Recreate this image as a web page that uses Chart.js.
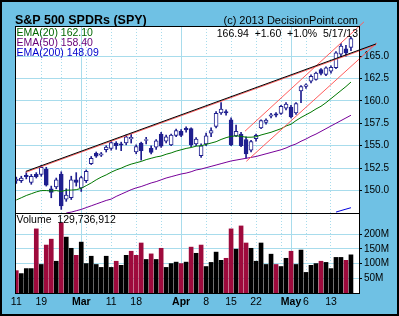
<!DOCTYPE html>
<html><head><meta charset="utf-8">
<script src="https://cdn.jsdelivr.net/npm/chart.js@4"></script>
<style>
html,body{margin:0;padding:0;}
body{width:399px;height:316px;background:#6FC1E4;position:relative;overflow:hidden;font-family:"Liberation Sans",Arial,sans-serif;}
#c{position:absolute;left:0;top:0;}
.t{position:absolute;white-space:pre;line-height:1;}
#frame{position:absolute;left:0;top:0;width:399px;height:316px;box-sizing:border-box;border:2px solid #000;pointer-events:none;}
</style></head><body>
<canvas id="c" width="399" height="316"></canvas>
<div class="t" style="left:15px;top:13.5px;font-size:12.5px;font-weight:bold;">S&amp;P 500 SPDRs (SPY)</div>
<div class="t" style="right:41px;top:15px;font-size:11px;">(c) 2013 DecisionPoint.com</div>
<div class="t" style="right:41px;top:28px;font-size:10.5px;">166.94  +1.60  +1.0%  5/17/13</div>
<div class="t" style="left:16.5px;top:27.4px;font-size:10.5px;color:#006600;">EMA(20) 162.10</div>
<div class="t" style="left:16.5px;top:37.4px;font-size:10.5px;color:#660077;">EMA(50) 158.40</div>
<div class="t" style="left:16.5px;top:47.4px;font-size:10.5px;color:#0000CC;">EMA(200) 148.09</div>
<div class="t" style="left:16.5px;top:213.5px;font-size:10.5px;">Volume  129,736,912</div>
<div id="frame"></div>
<script>
// ---- data (trading days 2013-02-11 .. 2013-05-17) ----
const opens = [151.1,151.1,151.7,150.9,151.8,151.8,152.4,150.2,150.4,151.85, 149.05,149.2,151.2,150.3,151.1,153.0,154.15,153.95,154.55,154.7, 155.3,155.2,155.3,155.75,154.3,155.3,155.6,154.7,154.85,156.3, 155.5,155.1,156.15,156.6,156.95,156.9,155.2,153.9,155.2,156.4, 157.15,158.65,158.8,157.9,156.1,156.3,155.7,154.5,155.8,157.0, 157.6,158.3,158.55,158.6,159.2,159.3,158.65,161.1,161.6,162.2, 162.4,163.5,162.95,163.3,163.7,165.2,165.8,165.95];
const highs = [151.5,151.6,152.0,151.8,152.0,152.8,152.6,150.5,151.4,152.1, 150.2,151.6,152.0,151.6,152.3,153.8,154.3,154.25,155.0,155.5, 155.45,155.4,156.2,156.3,155.1,155.4,155.95,155.0,155.7,156.5, 156.2,156.3,156.85,156.8,157.1,157.0,155.9,155.2,156.4,157.0, 158.8,159.8,159.0,158.1,157.3,156.5,156.0,155.6,156.3,157.9, 158.0,158.6,158.7,159.5,159.8,159.5,159.8,161.7,161.9,162.9, 163.2,163.6,163.8,163.9,165.5,166.4,166.2,167.1];
const lows = [150.8,150.9,151.3,150.7,151.4,151.6,150.5,149.2,150.2,147.9, 148.8,149.0,150.5,149.9,150.9,152.9,153.7,153.8,154.3,154.5, 154.6,154.45,155.1,155.3,154.1,153.4,155.2,154.1,154.6,154.8, 155.3,155.0,156.0,156.0,156.5,154.9,155.0,153.7,155.0,156.0, 157.0,158.5,158.4,155.0,156.0,154.9,153.6,154.3,155.5,156.9, 157.4,158.1,158.2,158.5,159.0,158.1,158.5,159.8,161.4,162.0, 162.3,162.9,162.8,163.1,163.6,164.9,165.0,165.6];
const closes = [151.25,151.4,151.55,151.6,151.55,152.6,150.6,149.8,151.2,148.3, 149.5,151.2,150.9,151.45,152.15,153.6,153.85,154.1,154.85,155.35, 155.0,155.05,156.0,155.95,154.9,154.45,155.7,154.25,155.55,154.95, 156.0,156.2,156.7,156.15,156.75,155.1,155.75,155.0,156.1,156.7, 158.6,159.1,158.65,155.1,156.6,155.0,154.1,155.45,156.15,157.8, 157.85,158.45,158.4,159.4,159.65,158.2,159.7,161.6,161.8,162.75, 163.1,163.05,163.7,163.75,165.35,166.1,165.34,166.94];
// volume in millions of shares
const volumes = [76,66,83,83,218,97,163,183,108,239, 190,152,128,173,100,125,97,87,125,87, 108,94,128,142,128,170,114,133,114,152, 87,100,105,100,105,156,135,163,90,104, 139,111,118,218,149,228,170,152,108,170, 97,132,97,90,118,142,97,146,70,94, 100,108,104,83,121,121,111,129.74];
// 1 = red (down) volume bar
const volDown = [1,0,0,0,1,0,1,1,0,1, 0,0,1,0,0,0,0,0,0,0, 1,0,0,1,1,1,0,1,0,1, 0,0,0,1,0,1,0,1,0,0, 0,0,1,1,0,1,1,0,0,0, 0,0,1,0,0,1,0,0,0,0, 0,1,0,0,0,0,1,0];
const ema20 = [148.95,149.2,149.45,149.65,149.85,150.0,150.0,149.95,150.0,149.9, 150.05,150.05,150.1,150.25,150.55,150.85,151.2,151.5,151.75,152.05, 152.3,152.5,152.75,152.95,153.1,153.25,153.45,153.6,153.75,153.85, 154.05,154.2,154.4,154.55,154.7,154.8,154.95,155.0,155.15,155.3, 155.45,155.7,155.9,156.05,156.1,156.05,155.95,155.95,156.0,156.2, 156.35,156.5,156.7,156.9,157.2,157.4,157.8,158.15,158.45,158.75, 159.1,159.4,159.8,160.25,160.7,161.15,161.6,162.1];
const ema50 = [null,null,null,null,null,null,null,null,null,null, 147.5,147.6,147.75,147.9,148.1,148.3,148.5,148.7,148.9,149.05, 149.35,149.6,149.85,150.1,150.3,150.45,150.65,150.85,151.0,151.2, 151.4,151.55,151.7,151.85,151.95,152.1,152.3,152.4,152.55,152.7, 152.85,153.0,153.15,153.3,153.4,153.5,153.6,153.7,153.8,153.95, 154.1,154.25,154.4,154.55,154.75,155.0,155.2,155.5,155.75,156.05, 156.3,156.6,156.9,157.2,157.5,157.8,158.1,158.4];
const ema200 = [null,null,null,null,null,null,null,null,null,null, null,null,null,null,null,null,null,null,null,null, null,null,null,null,null,null,null,null,null,null, null,null,null,null,null,null,null,null,null,null, null,null,null,null,null,null,null,null,null,null, null,null,null,null,null,null,null,null,null,null, null,null,null,null,147.6,147.77,147.93,148.09];
// trend lines: [day index, price] end points
const trendTop = [[1.9,152.14],[72.0,166.35]];
const trendTopShadow = [[1.9,152.04],[72.0,166.25]];
const channelUpper = [[45.8,156.63],[69.6,168.81]];
const channelLower = [[46.05,153.26],[72.2,166.46]];
// axis ticks
const tickLabelIdx = [0,5,13,19,24,33,38,43,48,55,58,63];
const tickLabels = ['11','19','Mar','11','18','Apr','8','15','22','May','6','13'];
const weekGridIdx = [5,9,14,19,24,29,38,43,48,53,58,63];
const monthGridIdx = [13,33,55];
const priceTicks = [150,152.5,155,157.5,160,162.5,165];
const volTicks = [50,100,150,200];

// ---- chart ----
const navy = '#1F1F8F';
const gridCol = '#A8DCEC';
const volRed = '#9E0A3C';
const FONT = "'Liberation Sans', Arial, sans-serif";
Chart.defaults.font.family = FONT;

const idx = closes.map((_, i) => i);
const pts = arr => arr.map((v, i) => v == null ? null : {x: i, y: v}).filter(p => p);
const seg = arr => arr.map(p => ({x: p[0], y: p[1]}));
const xTicks = Array.from(new Set(tickLabelIdx.concat(weekGridIdx))).sort((a, b) => a - b);

const bgPlugin = {
  id: 'bg',
  beforeDraw(chart) {
    const {ctx, chartArea: a} = chart;
    ctx.save(); ctx.fillStyle = '#FFFFFF';
    ctx.fillRect(a.left, a.top, a.right - a.left, a.bottom - a.top);
    ctx.restore();
  }
};
const framePlugin = {
  id: 'frame',
  afterDraw(chart) {
    const {ctx, chartArea: a, scales} = chart;
    ctx.save(); ctx.strokeStyle = '#000'; ctx.lineWidth = 1;
    ctx.strokeRect(a.left + 0.5, a.top + 0.5, a.right - a.left, a.bottom - a.top);
    const yd = Math.round(scales.y.bottom) + 0.5;
    ctx.beginPath(); ctx.moveTo(a.left, yd); ctx.lineTo(a.right + 1, yd); ctx.stroke();
    ctx.restore();
  }
};

new Chart(document.getElementById('c'), {
  type: 'bar',
  data: {
    datasets: [
      { type: 'line', label: 'trendShadow', data: seg(trendTopShadow), xAxisID: 'x', yAxisID: 'y', borderColor: '#FF5C5C', borderWidth: 1, pointRadius: 0, clip: false, order: 2 },
      { type: 'line', label: 'trend', data: seg(trendTop), xAxisID: 'x', yAxisID: 'y', borderColor: '#000000', borderWidth: 1, pointRadius: 0, clip: false, order: 1 },
      { type: 'line', label: 'chanU', data: seg(channelUpper), xAxisID: 'x', yAxisID: 'y', borderColor: '#FF5C5C', borderWidth: 1, pointRadius: 0, clip: false, order: 1 },
      { type: 'line', label: 'chanL', data: seg(channelLower), xAxisID: 'x', yAxisID: 'y', borderColor: '#FF5C5C', borderWidth: 1, pointRadius: 0, clip: false, order: 1 },
      { type: 'line', label: 'EMA20', data: pts(ema20), xAxisID: 'x', yAxisID: 'y', borderColor: '#007700', borderWidth: 1, pointRadius: 0, tension: 0, order: 3 },
      { type: 'line', label: 'EMA50', data: pts(ema50), xAxisID: 'x', yAxisID: 'y', borderColor: '#770099', borderWidth: 1, pointRadius: 0, tension: 0, order: 3 },
      { type: 'line', label: 'EMA200', data: pts(ema200), xAxisID: 'x', yAxisID: 'y', borderColor: '#0000DD', borderWidth: 1, pointRadius: 0, tension: 0, order: 3 },
      { label: 'body', data: idx.map(i => ({x: i, y: [opens[i], closes[i]]})), xAxisID: 'x', yAxisID: 'y',
        backgroundColor: idx.map(i => closes[i] >= opens[i] ? '#FFFFFF' : navy),
        borderColor: navy, borderWidth: 1, borderSkipped: false, barThickness: 4, grouped: false, order: 4 },
      { label: 'wick', data: idx.map(i => ({x: i, y: [lows[i], highs[i]]})), xAxisID: 'x', yAxisID: 'y',
        backgroundColor: navy, barThickness: 1, grouped: false, order: 5 },
      { label: 'volume', data: idx.map(i => ({x: i, y: volumes[i]})), xAxisID: 'x', yAxisID: 'yv',
        backgroundColor: idx.map(i => volDown[i] ? volRed : '#000000'), barThickness: 4, grouped: false, order: 6 }
    ]
  },
  options: {
    responsive: false, animation: false, devicePixelRatio: 1,
    layout: { padding: { left: 15, top: 26, right: 0, bottom: 0 } },
    plugins: { legend: { display: false }, tooltip: { enabled: false } },
    scales: {
      x: {
        type: 'linear', min: -0.26, max: 68.61, offset: false,
        afterBuildTicks: s => { s.ticks = xTicks.map(v => ({value: v})); },
        afterFit: s => { s.height = 23; },
        grid: { offset: false, drawTicks: false, lineWidth: 1,
          color: c => (c.tick && weekGridIdx.includes(c.tick.value)) ? gridCol : 'rgba(0,0,0,0)' },
        border: { display: false, dash: [1, 2] },
        ticks: {
          autoSkip: false, maxRotation: 0, padding: 3, color: '#000',
          callback: v => { const k = tickLabelIdx.indexOf(v); return k >= 0 ? tickLabels[k] : ''; },
          font: c => ({ family: FONT, size: 10.5, weight: (c.tick && monthGridIdx.includes(c.tick.value)) ? 'bold' : 'normal' })
        }
      },
      x2: {
        type: 'linear', position: 'bottom', min: -0.26, max: 68.61, offset: false,
        afterBuildTicks: s => { s.ticks = monthGridIdx.map(v => ({value: v})); },
        afterFit: s => { s.height = 0; },
        grid: { offset: false, drawTicks: false, color: gridCol, lineWidth: 1 },
        border: { display: false },
        ticks: { display: false }
      },
      y: {
        type: 'linear', position: 'right', stack: 'panels', stackWeight: 187,
        min: 147.5, max: 168.35,
        afterBuildTicks: s => { s.ticks = priceTicks.map(v => ({value: v})); },
        afterFit: s => { s.width = 40; },
        grid: { color: gridCol, drawTicks: true, tickLength: 3, tickColor: '#000' },
        border: { display: false },
        ticks: { autoSkip: false, padding: 2, color: '#000', font: { size: 10 }, callback: v => Number(v).toFixed(1) }
      },
      yv: {
        type: 'linear', position: 'right', stack: 'panels', stackWeight: 80,
        min: 0, max: 272,
        afterBuildTicks: s => { s.ticks = volTicks.map(v => ({value: v})); },
        afterFit: s => { s.width = 40; },
        grid: { color: gridCol, drawTicks: true, tickLength: 3, tickColor: '#000' },
        border: { display: false },
        ticks: { autoSkip: false, padding: 2, color: '#000', font: { size: 10 }, callback: v => v + 'M' }
      }
    }
  },
  plugins: [bgPlugin, framePlugin]
});
</script>
</body></html>
